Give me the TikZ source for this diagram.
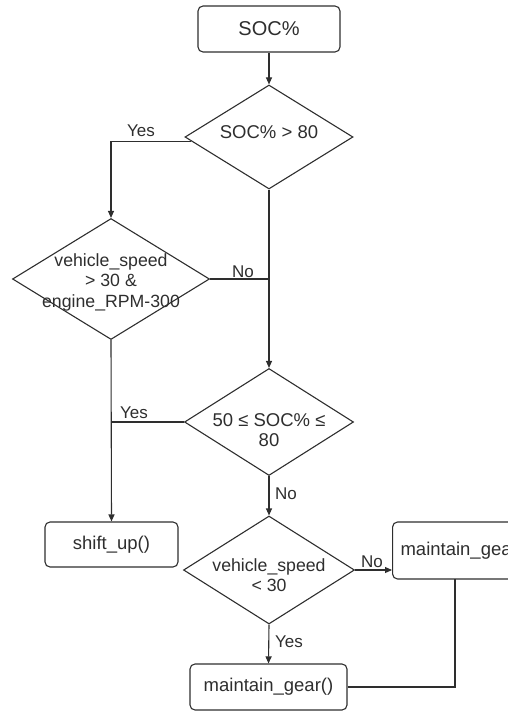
\documentclass[tikz,border=0pt]{standalone}
\usepackage{fontspec}
\setmainfont{Liberation Sans}
\usetikzlibrary{shapes.geometric,arrows.meta,calc}
\definecolor{ink}{HTML}{2E2E2E}
\begin{document}
\begin{tikzpicture}[x=1pt,y=-1pt,
  font=\fontsize{18.5}{20}\selectfont, text=ink,
  box/.style={draw=ink, line width=1.1pt, rounded corners=5pt, inner sep=0pt, align=center},
  dia/.style={draw=ink, line width=1.1pt, diamond, inner sep=0pt},
  txt/.style={align=center, inner sep=0pt},
  vs/.style={txt, font=\fontsize{17.7}{20.5}\selectfont},
  lab/.style={inner sep=0pt, font=\fontsize{17}{20}\selectfont},
  conn/.style={draw=ink, line width=1.1pt},
  arr/.style={conn, -{Triangle[length=7pt,width=6pt]}}]
\useasboundingbox (0,0) rectangle (507,711);

\node[box, minimum width=142, minimum height=46, font=\fontsize{20}{22}\selectfont] (soc) at (269,29) {SOC\%};
\node[dia, minimum width=168, minimum height=104] (d1) at (269,137) {};
\node[txt] (t1) at (269,132) {SOC\% > 80};

\node[dia, minimum width=197, minimum height=121] (d2) at (111,279) {};
\node[vs] (t2) at (111,282) {vehicle\_speed\\> 30 \&\\engine\_RPM-300};

\node[dia, minimum width=169, minimum height=107] (d3) at (269,422) {};
\node[txt] (t3) at (269,430) {50 ≤ SOC\% ≤\\80};

\node[box, minimum width=133, minimum height=45] (su) at (111.5,544.5) {shift\_up()};

\node[dia, minimum width=171, minimum height=108] (d4) at (269,570) {};
\node[vs] (t4) at (269,575) {vehicle\_speed\\< 30};

\node[box, anchor=west, text width=150, inner xsep=8pt, align=left, minimum height=57] (mg1) at (392,550.5) {maintain\_gear()};
\node[box, minimum width=157, minimum height=46] (mg2) at (268.5,687) {maintain\_gear()};

\coordinate (tap) at (455,579);

% connectors
\draw[arr] (soc) -- (d1);
\draw[arr] ($(d1.west)!0.08!(d1.south)$) -| (d2.north);
\node[lab] (y1) at (141,131) {Yes};

\draw[arr] (d1.south) -- (d3.north);
\draw[conn] (d2.east) -- (d2.east -| d1.south);
\node[lab] (n1) at (243,272) {No};

\draw[conn] (d3.west) -- (d3.west -| d2.south);
\node[lab] (y2) at (134,413) {Yes};
\draw[arr] (d2.south) -- (su.north);

\draw[arr] (d3.south) -- (d4.north);
\node[lab] (n2) at (286,494) {No};

\draw[arr] (d4.east) -- (d4.east -| mg1.west);
\node[lab] (n3) at (372,562) {No};

\draw[arr] (d4.south) -- (mg2.north);
\node[lab] (y3) at (289,642) {Yes};

\draw[conn] (mg2.east) -| (tap);
\end{tikzpicture}
\end{document}
